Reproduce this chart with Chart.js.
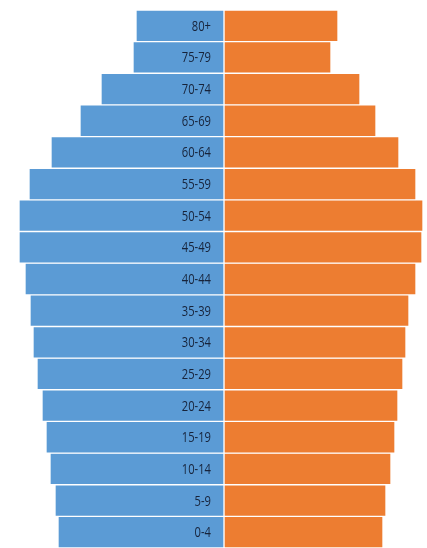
<!DOCTYPE html>
<html lang="en">
<head>
    <meta charset="UTF-8">
    <title>Population Pyramid</title>
    <script src="https://cdn.jsdelivr.net/npm/chart.js@4"></script>
    <style>
        body { margin: 0; background: #fff; }
        #wrap { width: 427px; height: 548px; position: relative; }
    </style>
</head>
<body>
    <div id="wrap"><canvas id="pyramid"></canvas></div>

    <script>
        // age groups, bottom to top
        const ageGroups = ['0-4', '5-9', '10-14', '15-19', '20-24', '25-29', '30-34', '35-39',
            '40-44', '45-49', '50-54', '55-59', '60-64', '65-69', '70-74', '75-79', '80+'];
        // left side (blue), drawn as negatives
        const maleValues = [166, 169, 174, 178, 182, 187, 191, 194, 199, 205, 205, 195, 173, 144, 123, 91, 88];
        // right side (orange)
        const femaleValues = [159, 162, 167, 171, 174, 179, 182, 185, 192, 198, 199, 192, 175, 152, 136, 107, 114];

        // writes the age group inside the blue bar, next to the centre line
        const centreLabels = {
            id: 'centreLabels',
            afterDatasetsDraw(chart) {
                const ctx = chart.ctx;
                const xs = chart.scales.x;
                const ys = chart.scales.y;
                const x0 = xs.getPixelForValue(0);
                ctx.save();
                ctx.font = '14px "Open Sans", sans-serif';
                ctx.fillStyle = '#17233a';
                ctx.textAlign = 'right';
                ctx.textBaseline = 'middle';
                ageGroups.forEach((g, i) => {
                    ctx.save();
                    // squeeze the text a bit, the original uses a narrow face
                    ctx.translate(x0 - 13, ys.getPixelForValue(i) + 1);
                    ctx.scale(0.8, 1);
                    ctx.fillText(g, 0, 0);
                    ctx.restore();
                });
                ctx.restore();
            }
        };

        new Chart(document.getElementById('pyramid'), {
            type: 'bar',
            data: {
                labels: ageGroups,
                datasets: [
                    {
                        label: 'Male',
                        data: maleValues.map(v => -v),
                        backgroundColor: '#5B9BD5',
                        borderColor: 'rgba(255,255,255,0.85)',
                        borderWidth: 1,
                        borderSkipped: false
                    },
                    {
                        label: 'Female',
                        data: femaleValues,
                        backgroundColor: '#ED7D31',
                        borderColor: 'rgba(255,255,255,0.85)',
                        borderWidth: 1,
                        borderSkipped: false
                    }
                ]
            },
            options: {
                indexAxis: 'y',
                responsive: true,
                maintainAspectRatio: false,
                animation: false,
                layout: { padding: { top: 10, bottom: 0, left: 0, right: 0 } },
                datasets: { bar: { categoryPercentage: 1, barPercentage: 1 } },
                scales: {
                    x: { stacked: true, min: -224, max: 203, display: false },
                    y: { stacked: true, reverse: true, display: false }
                },
                plugins: {
                    legend: { display: false },
                    tooltip: { enabled: false }
                }
            },
            plugins: [centreLabels]
        });
    </script>
</body>
</html>
